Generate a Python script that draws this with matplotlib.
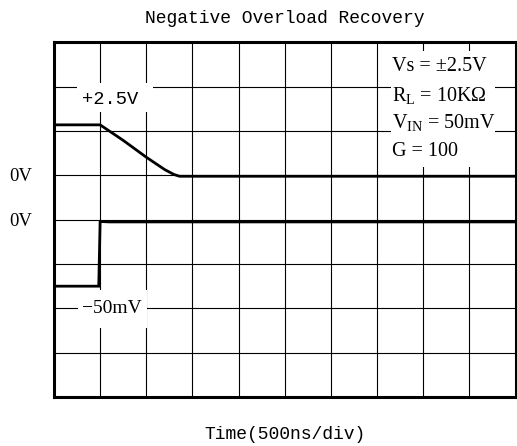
import matplotlib
matplotlib.use("Agg")
import matplotlib.pyplot as plt
from matplotlib.patches import Rectangle

# Scope trace readings (x in divisions of 500ns, y in grid divisions)
time_top = [0, 1.0, 1.5, 2.0, 2.4, 2.6, 2.72, 10]
v_top = [6.14, 6.14, 5.79, 5.41, 5.13, 5.02, 4.98, 4.98]
time_bottom = [0, 0.97, 1.0, 1.2, 10]
v_bottom = [2.5, 2.5, 3.96, 3.95, 3.95]

n_xdiv = 10
n_ydiv = 8
zero_levels = [4.98, 3.95]
zero_labels = ["0V", "0V"]
spec_lines = ["Vs = \u00b12.5V", "R$_\\mathregular{L}$ = 10K\u03a9",
              "V$_\\mathregular{IN}$ = 50mV", "G = 100"]
spec_y = [7.45, 6.78, 6.18, 5.53]

mono = ["Liberation Mono", "DejaVu Sans Mono"]
serif = ["Liberation Serif", "DejaVu Serif"]

fig = plt.figure(figsize=(5.17, 4.46), dpi=100)
ax = fig.add_axes([0.1044, 0.1099, 0.8927, 0.795])

ax.set_xlim(0, n_xdiv)
ax.set_ylim(0, n_ydiv)
ax.set_xticks(range(n_xdiv + 1))
ax.set_yticks(range(n_ydiv + 1))
ax.tick_params(length=0, labelbottom=False, labelleft=False)
ax.grid(True, color="black", linewidth=0.8, zorder=1)
ax.set_axisbelow(True)
for s in ax.spines.values():
    s.set_linewidth(2.2)
    s.set_zorder(10)

# white boxes hiding the grid behind the labels
for (x0, y0, w, h) in [(0.5, 6.43, 1.65, 0.65), (0.52, 1.56, 1.5, 0.86), (7.3, 5.2, 2.26, 2.6)]:
    ax.add_patch(Rectangle((x0, y0), w, h, facecolor="white", edgecolor="none", zorder=2))

ax.plot(time_top, v_top, color="black", linewidth=2.0, zorder=5, solid_joinstyle="round")
ax.plot(time_bottom, v_bottom, color="black", linewidth=2.0, zorder=5, solid_joinstyle="miter")

ax.text(1.22, 6.72, "+2.5V", family=mono, fontsize=13.5, ha="center", va="center", zorder=6)
ax.text(1.25, 2.0, "\u221250mV", family=serif, fontsize=14, ha="center", va="center", zorder=6)

for lvl, lab in zip(zero_levels, zero_labels):
    ax.text(-0.73, lvl, lab, family=serif, fontsize=13.5, ha="center", va="center")

for line, y in zip(spec_lines, spec_y):
    ax.text(7.33, y, line, family=serif, fontsize=14.5, ha="left", va="center", zorder=6)

ax.set_title("Negative Overload Recovery", family=mono, fontsize=13, pad=14)
ax.set_xlabel("Time(500ns/div)", family=mono, fontsize=13, labelpad=21)

fig.savefig("out.png", dpi=100)
